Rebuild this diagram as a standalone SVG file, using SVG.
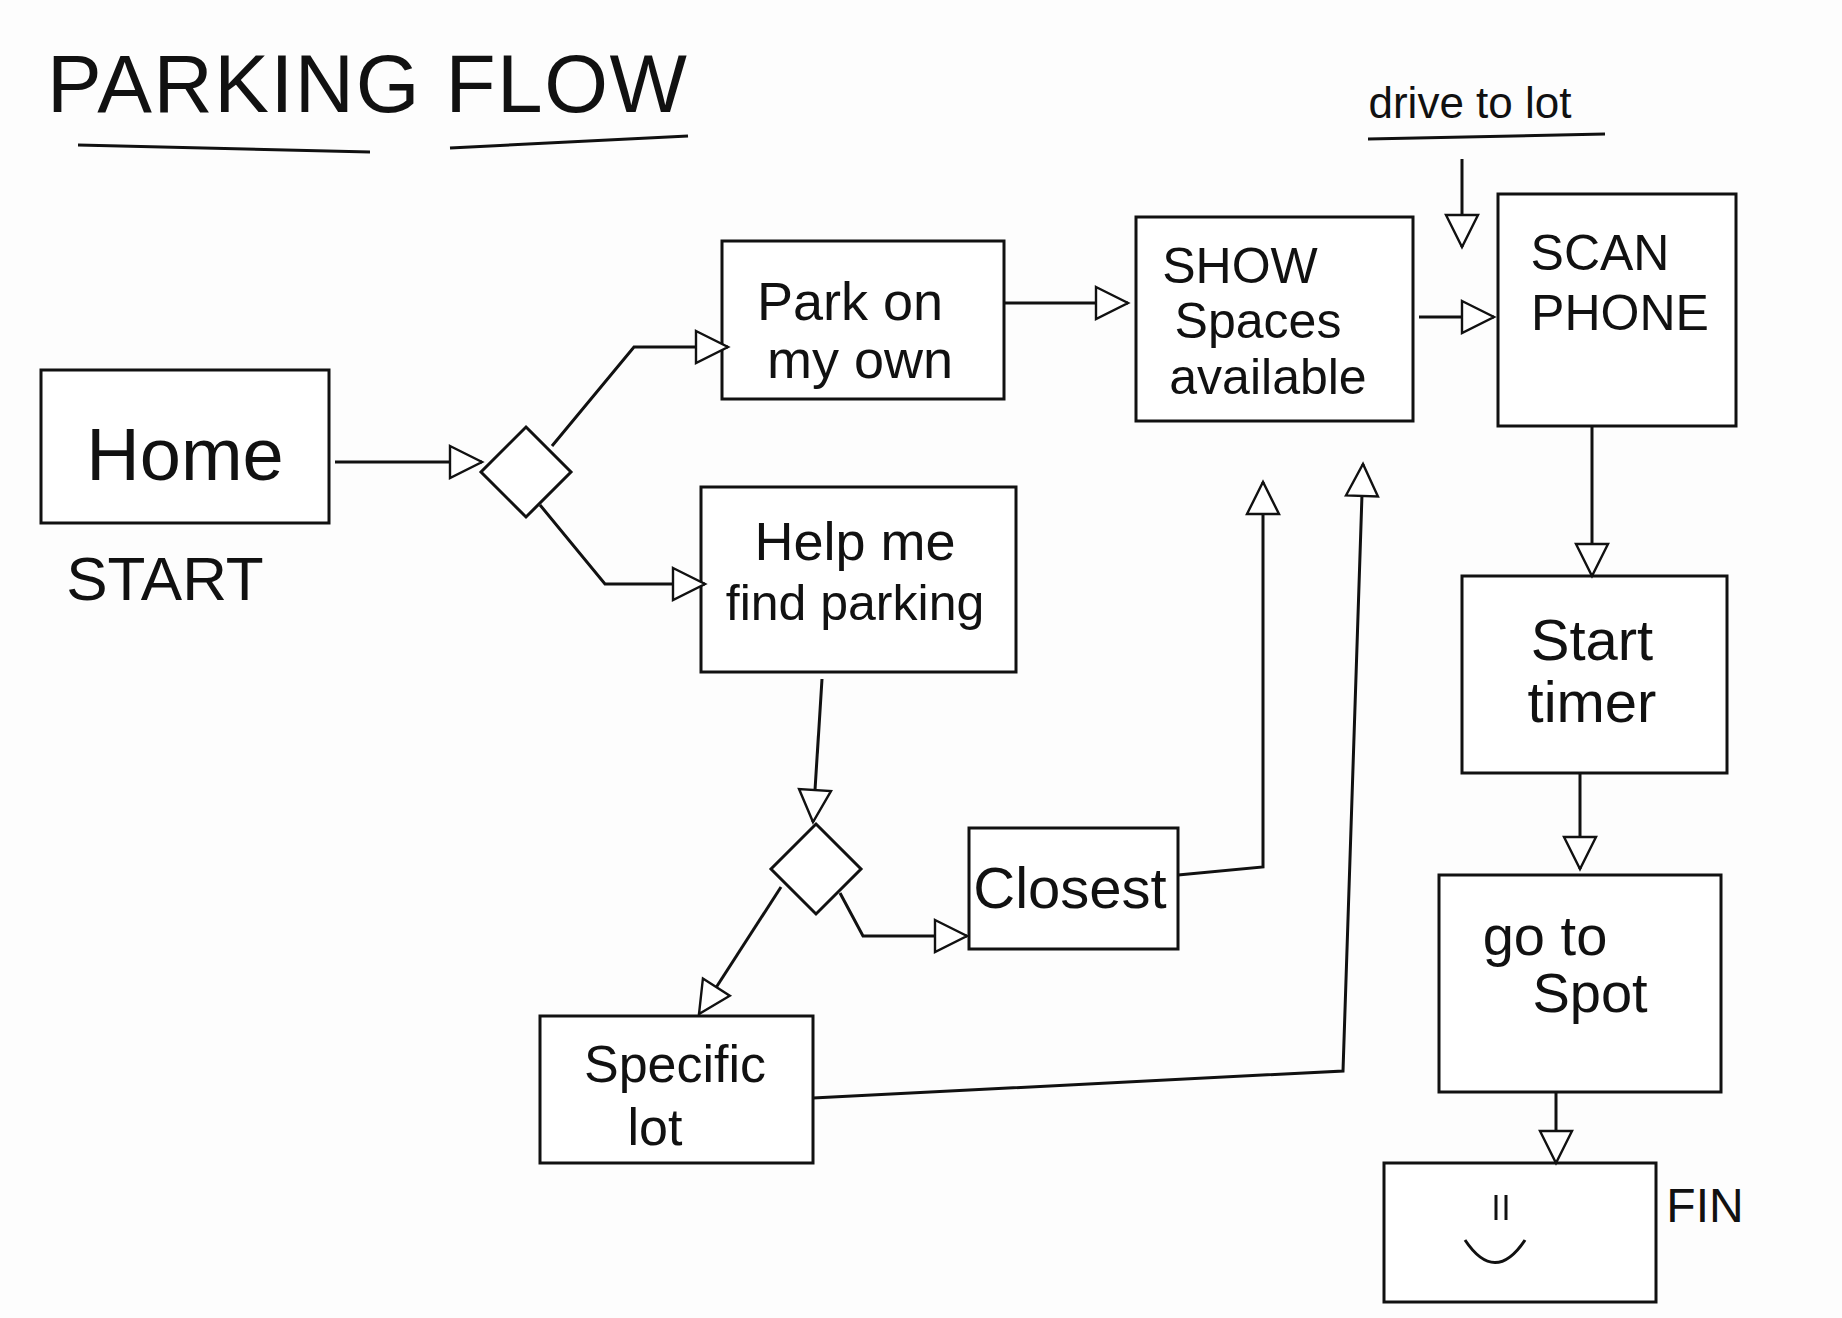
<svg xmlns="http://www.w3.org/2000/svg" width="1842" height="1318" viewBox="0 0 1842 1318">
<style>
.box{fill:#fff;stroke:#111;stroke-width:3}
.t{font-family:"Liberation Sans",Arial,sans-serif;fill:#111;text-anchor:middle}
.c{fill:none;stroke:#111;stroke-width:3}
.u{stroke:#111;stroke-width:3}
</style>
<defs>
<marker id="a" viewBox="0 0 20 20" refX="18" refY="10" markerWidth="40" markerHeight="40" markerUnits="userSpaceOnUse" orient="auto">
<path d="M2,2 L18,10 L2,18 Z" fill="#fff" stroke="#111" stroke-width="1.2"/>
</marker>
</defs>
<rect width="1842" height="1318" fill="#fdfdfd"/>
<g id="title">
<text x="47" y="112" font-family="Liberation Sans,Arial,sans-serif" font-size="82" fill="#111" textLength="640">PARKING FLOW</text>
<line class="u" x1="78" y1="145" x2="370" y2="152"/>
<line class="u" x1="450" y1="148" x2="688" y2="136"/>
</g>
<g id="drive">
<text class="t" x="1470" y="118" font-size="44">drive to lot</text>
<line class="u" x1="1368" y1="139" x2="1605" y2="134"/>
</g>
<g id="home"><rect class="box" x="41" y="370" width="288" height="153"/><text class="t" x="185" y="480" font-size="74">Home</text></g>
<text id="start" class="t" x="165" y="600" font-size="62">START</text>
<g id="d1"><path class="box" d="M526,427 L571,472 L526,517 L481,472 Z"/></g>
<g id="park"><rect class="box" x="722" y="241" width="282" height="158"/><text class="t" x="850" y="320" font-size="54">Park on</text><text class="t" x="860" y="378" font-size="54">my own</text></g>
<g id="help"><rect class="box" x="701" y="487" width="315" height="185"/><text class="t" x="855" y="560" font-size="54">Help me</text><text class="t" x="855" y="620" font-size="50">find parking</text></g>
<g id="show"><rect class="box" x="1136" y="217" width="277" height="204"/><text class="t" x="1240" y="283" font-size="50">SHOW</text><text class="t" x="1258" y="338" font-size="50">Spaces</text><text class="t" x="1268" y="394" font-size="50">available</text></g>
<g id="scan"><rect class="box" x="1498" y="194" width="238" height="232"/><text class="t" x="1600" y="270" font-size="50">SCAN</text><text class="t" x="1620" y="330" font-size="50">PHONE</text></g>
<g id="timer"><rect class="box" x="1462" y="576" width="265" height="197"/><text class="t" x="1592" y="660" font-size="58">Start</text><text class="t" x="1592" y="722" font-size="58">timer</text></g>
<g id="goto"><rect class="box" x="1439" y="875" width="282" height="217"/><text class="t" x="1545" y="955" font-size="56">go to</text><text class="t" x="1590" y="1012" font-size="56">Spot</text></g>
<g id="smile"><rect class="box" x="1384" y="1163" width="272" height="139"/>
<line class="u" x1="1496" y1="1195" x2="1496" y2="1220"/><line class="u" x1="1506" y1="1195" x2="1506" y2="1220"/>
<path class="c" d="M1465,1240 Q1495,1285 1525,1240"/></g>
<text id="fin" class="t" x="1705" y="1222" font-size="48">FIN</text>
<g id="d2"><path class="box" d="M816,824 L861,869 L816,914 L771,869 Z"/></g>
<g id="closest"><rect class="box" x="969" y="828" width="209" height="121"/><text class="t" x="1070" y="908" font-size="58">Closest</text></g>
<g id="specific"><rect class="box" x="540" y="1016" width="273" height="147"/><text class="t" x="675" y="1082" font-size="52">Specific</text><text class="t" x="655" y="1145" font-size="52">lot</text></g>
<g id="connectors">
<path class="c" d="M335,462 L482,462" marker-end="url(#a)"/>
<path class="c" d="M552,446 L634,347 L728,347" marker-end="url(#a)"/>
<path class="c" d="M540,505 L605,584 L705,584" marker-end="url(#a)"/>
<path class="c" d="M1004,303 L1128,303" marker-end="url(#a)"/>
<path class="c" d="M1419,317 L1494,317" marker-end="url(#a)"/>
<path class="c" d="M1462,159 L1462,247" marker-end="url(#a)"/>
<path class="c" d="M1592,426 L1592,576" marker-end="url(#a)"/>
<path class="c" d="M1580,773 L1580,869" marker-end="url(#a)"/>
<path class="c" d="M1556,1092 L1556,1163" marker-end="url(#a)"/>
<path class="c" d="M822,679 L813,822" marker-end="url(#a)"/>
<path class="c" d="M840,893 L863,936 L967,936" marker-end="url(#a)"/>
<path class="c" d="M781,887 L699,1014" marker-end="url(#a)"/>
<path class="c" d="M1178,875 L1263,867 L1263,482" marker-end="url(#a)"/>
<path class="c" d="M813,1098 L1343,1071 L1363,464" marker-end="url(#a)"/>
</g>
</svg>
